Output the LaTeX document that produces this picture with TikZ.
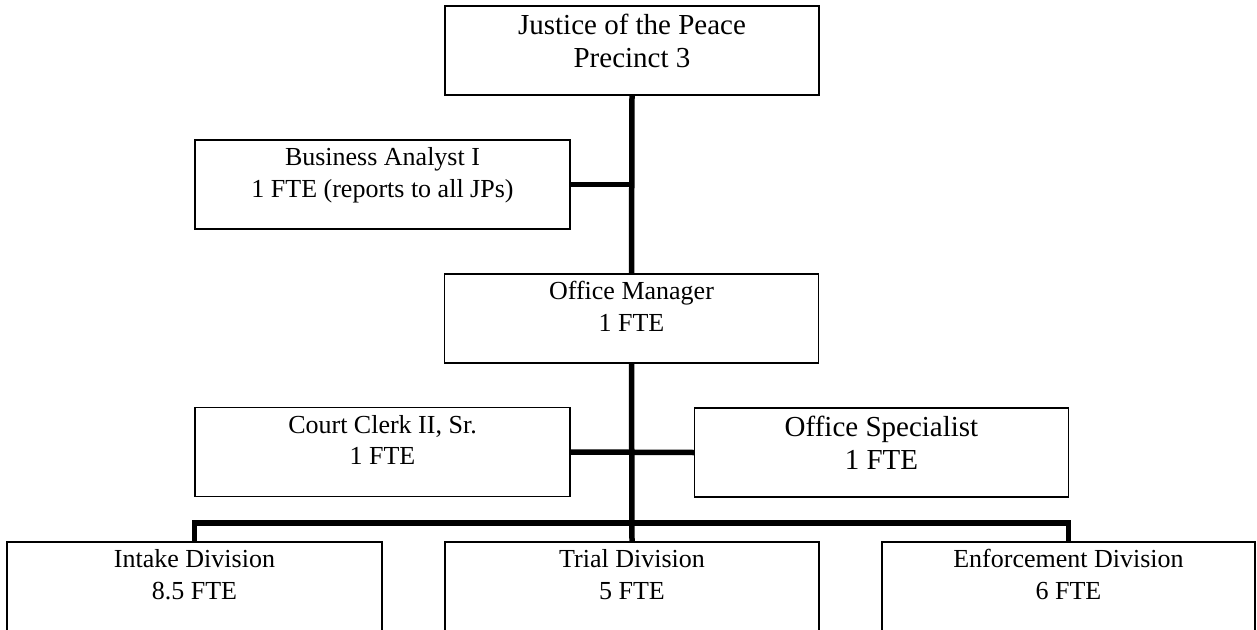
\documentclass[tikz,border=0pt]{standalone}
\usepackage{fontspec}
\setmainfont{Liberation Serif}
\newcommand{\orgN}[4]{\parbox[c][#2][t]{#1}{\fontsize{26}{31.5}\selectfont\centering\rule{0pt}{25.5pt}#3\\#4\par}}
\newcommand{\orgL}[4]{\parbox[c][#2][t]{#1}{\fontsize{29}{33}\selectfont\centering\rule{0pt}{28.5pt}#3\\#4\par}}
\tikzset{
  orgbox/.style={draw, line width=1.3pt, inner sep=0pt, outer sep=0pt},
  link/.style={line width=5.5pt, line join=miter},
}
\begin{document}
\begin{tikzpicture}[x=1pt, y=-1pt]
\useasboundingbox[fill=white] (0,0) rectangle (1257,629);
\node[orgbox] (top) at (632,50.5) {\orgL{374pt}{89pt}{Justice of the Peace}{Precinct 3}};
\node[orgbox] (BA) at (382.5,184.5) {\orgN{375pt}{89pt}{Business Analyst I}{1 FTE (reports to all JPs)}};
\node[orgbox] (OM) at (631.5,318.5) {\orgN{374pt}{89pt}{Office Manager}{1 FTE}};
\node[orgbox] (Clerk) at (382.5,452) {\orgN{375pt}{89pt}{Court Clerk II, Sr.}{1 FTE}};
\node[orgbox] (Spec) at (881.5,452.5) {\orgL{374pt}{89pt}{Office Specialist}{1 FTE}};
\node[orgbox] (Intake) at (194.5,589.5) {\orgN{375pt}{95pt}{Intake Division}{8.5 FTE}};
\node[orgbox] (Trial) at (632,589.5) {\orgN{374pt}{95pt}{Trial Division}{5 FTE}};
\node[orgbox] (Enf) at (1068.5,589.5) {\orgN{373pt}{95pt}{Enforcement Division}{6 FTE}};
\coordinate (bar) at (632,523);
\draw[link] (top.south) -- (OM.north);
\draw[link] (BA.east) -- (BA.east -| top.south);
\draw[link] (OM.south) -- (Trial.north);
\draw[link] (Clerk.east) -- (Spec.west);
\draw[link] (Intake.north) |- (bar) -| (Enf.north);
\end{tikzpicture}
\end{document}
